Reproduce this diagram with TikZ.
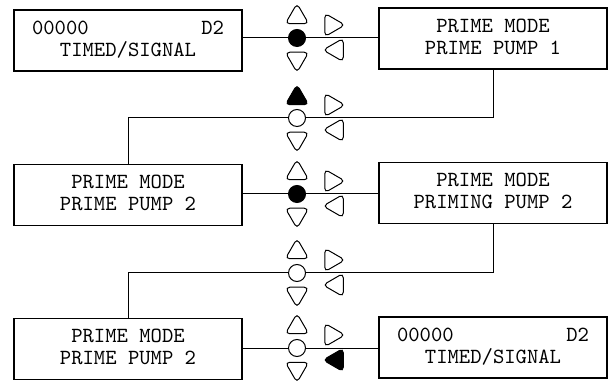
\documentclass[tikz,border=0pt]{standalone}
\usepackage{fontspec}
\usetikzlibrary{shapes.geometric}

\begin{document}
\begin{tikzpicture}[x=0.5pt, y=-0.5pt, line width=0.5pt]
  \tikzset{
    screen/.style={draw, line width=0.6pt, minimum width=114pt, minimum height=30.5pt,
      inner sep=0pt, align=center, font=\ttfamily\fontsize{10.8}{11}\selectfont, text depth=2pt},
    knob/.style={circle, draw, fill=white, minimum size=8.5pt, inner sep=0pt},
    tri/.style={regular polygon, regular polygon sides=3, draw, fill=white,
      rounded corners=2.2pt, minimum size=13.5pt, inner sep=0pt},
    btnup/.style={tri},
    btndown/.style={tri, shape border rotate=180},
    btnnext/.style={tri, shape border rotate=270},
    btnback/.style={tri, shape border rotate=90},
    pressed/.style={fill=black}
  }
  \useasboundingbox (0,0) rectangle (613,383);

  % Display screens
  \node[screen] (sig1) at (128,40.5) {\makebox[96pt]{00000\hfill D2}\\TIMED/SIGNAL};
  \node[screen] (pump1) at (493,38.5) {PRIME MODE\\PRIME PUMP 1};
  \node[screen] (pump2) at (128,195) {PRIME MODE\\PRIME PUMP 2};
  \node[screen] (priming) at (493,193) {PRIME MODE\\PRIMING PUMP 2};
  \node[screen] (pump2b) at (128,349) {PRIME MODE\\PRIME PUMP 2};
  \node[screen] (sig2) at (493,347.5) {\makebox[96pt]{00000\hfill D2}\\TIMED/SIGNAL};

  % Keypad, step 1 (enter pressed)
  \node[knob, pressed] (k1) at (297,38) {};
  \node[btnup] (u1) at (297,17) {};
  \node[btndown] (d1) at (297,59) {};
  \node[btnnext] (n1) at (331.5,25) {};
  \node[btnback] (b1) at (336.5,50) {};

  % Keypad, step 2 (up pressed)
  \node[knob] (k2) at (297,118) {};
  \node[btnup, pressed] (u2) at (297,98) {};
  \node[btndown] (d2) at (297,139) {};
  \node[btnnext] (n2) at (331.5,105) {};
  \node[btnback] (b2) at (336.5,130) {};

  % Keypad, step 3 (enter pressed)
  \node[knob, pressed] (k3) at (297,194) {};
  \node[btnup] (u3) at (297,173) {};
  \node[btndown] (d3) at (297,215) {};
  \node[btnnext] (n3) at (331.5,181) {};
  \node[btnback] (b3) at (336.5,206) {};

  % Keypad, step 4 (nothing pressed)
  \node[knob] (k4) at (297,273) {};
  \node[btnup] (u4) at (297,252) {};
  \node[btndown] (d4) at (297,294) {};
  \node[btnnext] (n4) at (331.5,260) {};
  \node[btnback] (b4) at (336.5,285) {};

  % Keypad, step 5 (back pressed)
  \node[knob] (k5) at (297,348) {};
  \node[btnup] (u5) at (297,327) {};
  \node[btndown] (d5) at (297,369) {};
  \node[btnnext] (n5) at (331.5,335) {};
  \node[btnback, pressed] (b5) at (336.5,360) {};

  % Connections
  \draw (sig1.east |- k1) -- (k1) -- (k1 -| pump1.west);
  \draw (pump1.south) |- (k2) -| (pump2.north);
  \draw (pump2.east |- k3) -- (k3) -- (k3 -| priming.west);
  \draw (priming.south) |- (k4) -| (pump2b.north);
  \draw (pump2b.east |- k5) -- (k5) -- (k5 -| sig2.west);
\end{tikzpicture}
\end{document}
